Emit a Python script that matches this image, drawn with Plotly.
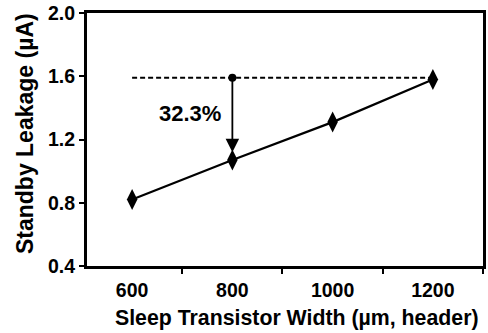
import plotly.graph_objects as go

widths = ["600", "800", "1000", "1200"]
leakage = [0.82, 1.07, 1.31, 1.58]
y_ticks = [0.4, 0.8, 1.2, 1.6, 2.0]
y_tick_labels = ["0.4", "0.8", "1.2", "1.6", "2.0"]
ref_level = 1.59
ref_x = ["600", "1200"]
arrow_x = "800"
arrow_top = 1.59
arrow_bottom = 1.12
label_text = "32.3%"
x_title = "Sleep Transistor Width (µm, header)"
y_title = "Standby Leakage (µA)"

FONT = "Liberation Sans, Arial, sans-serif"

fig = go.Figure()
fig.add_trace(go.Scatter(x=widths, y=leakage, mode="lines+markers",
                         line=dict(color="black", width=2.2),
                         marker=dict(symbol="diamond-tall", size=15, color="black"),
                         showlegend=False))
fig.add_trace(go.Scatter(x=ref_x, y=[ref_level, ref_level], mode="lines",
                         line=dict(color="black", width=2, dash="5px,3px"),
                         hoverinfo="skip", showlegend=False))
fig.add_trace(go.Scatter(x=[arrow_x], y=[arrow_top], mode="markers",
                         marker=dict(symbol="circle", size=8, color="black"),
                         showlegend=False))
fig.add_annotation(x=1, y=arrow_bottom, ax=1, ay=arrow_top, xref="x", yref="y",
                   axref="x", ayref="y", showarrow=True, arrowhead=2,
                   arrowsize=1.5, arrowwidth=1.8, arrowcolor="black", text="")
fig.add_annotation(x=0.58, y=1.364, xref="x", yref="y", text="<b>" + label_text + "</b>",
                   showarrow=False, xanchor="center", yanchor="middle",
                   font=dict(family=FONT, size=22, color="black"))
fig.add_annotation(x=0.531, y=-0.205, xref="paper", yref="paper",
                   text="<b>" + x_title + "</b>", showarrow=False,
                   xanchor="center", yanchor="middle",
                   font=dict(family=FONT, size=21.3, color="black"))
fig.add_annotation(x=-0.155, y=0.524, xref="paper", yref="paper",
                   text="<b>" + y_title + "</b>", showarrow=False, textangle=-90,
                   xanchor="center", yanchor="middle",
                   font=dict(family=FONT, size=23, color="black"))

fig.update_layout(
    width=488, height=333,
    margin=dict(l=87, r=1.5, t=12, b=67),
    plot_bgcolor="white", paper_bgcolor="white",
    font=dict(family=FONT, color="black"),
)
fig.update_xaxes(type="category", categoryorder="array", categoryarray=widths,
                 range=[-0.45, 3.5], tickson="boundaries",
                 tickvals=widths, ticktext=["<b>" + w + "</b>" for w in widths],
                 ticks="outside", ticklen=5, tickwidth=2, tickcolor="black",
                 ticklabelstandoff=5,
                 showline=True, linewidth=3, linecolor="black", mirror=True,
                 showgrid=False, zeroline=False,
                 tickfont=dict(family=FONT, size=19.5, color="black"))
fig.update_yaxes(range=[0.4, 2.0],
                 tickvals=y_ticks, ticktext=["<b>" + t + "</b>" for t in y_tick_labels],
                 ticks="outside", ticklen=5, tickwidth=2, tickcolor="black",
                 showline=True, linewidth=3, linecolor="black", mirror=True,
                 showgrid=False, zeroline=False,
                 tickfont=dict(family=FONT, size=19.5, color="black"))

fig.write_html("out.html")
